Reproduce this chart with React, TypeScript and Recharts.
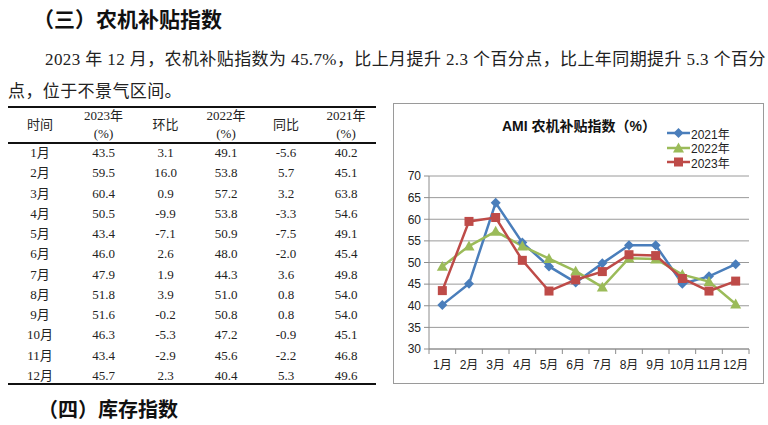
import React from 'react';
import { LineChart, Line, XAxis, YAxis, CartesianGrid, Legend } from 'recharts';

const months = ['1月', '2月', '3月', '4月', '5月', '6月', '7月', '8月', '9月', '10月', '11月', '12月'];
const y2023 = [43.5, 59.5, 60.4, 50.5, 43.4, 46.0, 47.9, 51.8, 51.6, 46.3, 43.4, 45.7];
const mom = [3.1, 16.0, 0.9, -9.9, -7.1, 2.6, 1.9, 3.9, -0.2, -5.3, -2.9, 2.3];
const y2022 = [49.1, 53.8, 57.2, 53.8, 50.9, 48.0, 44.3, 51.0, 50.8, 47.2, 45.6, 40.4];
const yoy = [-5.6, 5.7, 3.2, -3.3, -7.5, -2.0, 3.6, 0.8, 0.8, -0.9, -2.2, 5.3];
const y2021 = [40.2, 45.1, 63.8, 54.6, 49.1, 45.4, 49.8, 54.0, 54.0, 45.1, 46.8, 49.6];
const yTicks = [30, 35, 40, 45, 50, 55, 60, 65, 70];

const series = [
  { key: 'y2021', name: '2021年', color: '#4a7ebb', shape: 'diamond' },
  { key: 'y2022', name: '2022年', color: '#9bbb59', shape: 'triangle' },
  { key: 'y2023', name: '2023年', color: '#be4b48', shape: 'square' },
];

const chartData = months.map((m, i) => ({ month: m, y2021: y2021[i], y2022: y2022[i], y2023: y2023[i] }));

const serif = '"Liberation Serif", "Noto Sans CJK SC", serif';
const sans = '"Liberation Sans", "Noto Sans CJK SC", sans-serif';

const CHART_W = 371;
const CHART_H = 281;
const PLOT_W = 320;
const STEP = PLOT_W / months.length;

function Marker({ shape, color, cx, cy }: { shape: string; color: string; cx: number; cy: number }) {
  if (shape === 'diamond') {
    const r = 5;
    return <polygon points={`${cx},${cy - r} ${cx + r},${cy} ${cx},${cy + r} ${cx - r},${cy}`} fill={color} />;
  }
  if (shape === 'triangle') {
    const r = 5.5;
    return <polygon points={`${cx},${cy - r} ${cx + r},${cy + r * 0.8} ${cx - r},${cy + r * 0.8}`} fill={color} />;
  }
  return <rect x={cx - 4.5} y={cy - 4.5} width={9} height={9} fill={color} />;
}

function MonthTick(props: any) {
  const { x, y, payload, index } = props;
  return (
    <g>
      {index === 0 && <line x1={x - STEP / 2} y1={y} x2={x - STEP / 2} y2={y + 5} stroke="#8c8c8c" />}
      <line x1={x + STEP / 2} y1={y} x2={x + STEP / 2} y2={y + 5} stroke="#8c8c8c" />
      <text x={x} y={y + 20} textAnchor="middle" fontSize={12} fill="#222" fontFamily={sans}>
        {payload.value}
      </text>
    </g>
  );
}

function LegendBox() {
  return (
    <div style={{ fontFamily: sans, fontSize: 12, color: '#222' }}>
      {series.map((s) => (
        <div key={s.key} style={{ display: 'flex', alignItems: 'center', height: 14.5 }}>
          <svg width={23} height={12}>
            <line x1={0} y1={6} x2={23} y2={6} stroke={s.color} strokeWidth={2.5} />
            <Marker shape={s.shape} color={s.color} cx={11.5} cy={6} />
          </svg>
          <span style={{ marginLeft: 1 }}>{s.name}</span>
        </div>
      ))}
    </div>
  );
}

const colLeft = [8, 72, 135, 196, 256, 316];
const colWidth = [64, 63, 61, 60, 60, 60];
const headers = [['时间'], ['2023年', '(%)'], ['环比'], ['2022年', '(%)'], ['同比'], ['2021年', '(%)']];

function DataTable() {
  const rowTop = 143;
  const rowH = 20.25;
  return (
    <div style={{ position: 'absolute', left: 0, top: 0 }}>
      <div style={{ position: 'absolute', left: 8, top: 106, width: 368, height: 2, background: '#111' }} />
      <div style={{ position: 'absolute', left: 8, top: 142, width: 368, height: 2, background: '#111' }} />
      <div style={{ position: 'absolute', left: 8, top: 383, width: 368, height: 2, background: '#111' }} />
      {headers.map((h, c) => (
        <div
          key={c}
          style={{
            position: 'absolute', left: colLeft[c], top: h.length === 1 ? 116 : 107, width: colWidth[c],
            textAlign: 'center', fontFamily: serif, fontSize: 13, lineHeight: '18px', color: '#222',
          }}
        >
          {h.map((t) => <div key={t}>{t}</div>)}
        </div>
      ))}
      {months.map((m, i) => {
        const cells = [m, y2023[i].toFixed(1), mom[i].toFixed(1), y2022[i].toFixed(1), yoy[i].toFixed(1), y2021[i].toFixed(1)];
        return cells.map((t, c) => (
          <div
            key={`${i}-${c}`}
            style={{
              position: 'absolute', left: colLeft[c], top: rowTop + i * rowH, width: colWidth[c], height: rowH,
              lineHeight: `${rowH}px`, textAlign: 'center', fontFamily: serif, fontSize: 13, color: '#222',
            }}
          >
            {t}
          </div>
        ));
      })}
    </div>
  );
}

export default function App() {
  return (
    <div style={{ position: 'absolute', left: 0, top: 0, width: 768, height: 425, background: '#fff', overflow: 'hidden' }}>
      <div style={{ position: 'absolute', left: 33, top: 8, fontFamily: sans, fontWeight: 700, fontSize: 21, lineHeight: '24px', color: '#111', whiteSpace: 'nowrap' }}>
        （三）农机补贴指数
      </div>
      <div style={{ position: 'absolute', left: 45, top: 50, fontFamily: serif, fontSize: 17, lineHeight: '20px', letterSpacing: 0.4, color: '#222', whiteSpace: 'nowrap' }}>
        2023 年 12 月，农机补贴指数为 45.7%，比上月提升 2.3 个百分点，比上年同期提升 5.3 个百分
      </div>
      <div style={{ position: 'absolute', left: 8, top: 82, fontFamily: serif, fontSize: 17, lineHeight: '20px', letterSpacing: 0.4, color: '#222', whiteSpace: 'nowrap' }}>
        点，位于不景气区间。
      </div>

      <DataTable />

      <div style={{ position: 'absolute', left: 393, top: 103, width: CHART_W, height: CHART_H, border: '1px solid #9a9a9a', boxSizing: 'border-box' }}>
        <div style={{ position: 'absolute', left: 108, top: 11, fontFamily: sans, fontWeight: 700, fontSize: 14, color: '#111', whiteSpace: 'nowrap' }}>
          AMI 农机补贴指数（%）
        </div>
        <LineChart width={CHART_W - 2} height={CHART_H - 2} data={chartData} margin={{ top: 72, right: 14, left: 0, bottom: 0 }}>
          <CartesianGrid vertical={false} stroke="#9a9a9a" />
          <XAxis
            dataKey="month"
            height={34}
            padding={{ left: STEP / 2, right: STEP / 2 }}
            axisLine={{ stroke: '#8c8c8c' }}
            tickLine={false}
            tickSize={0}
            tickMargin={0}
            interval={0}
            tick={<MonthTick />}
          />
          <YAxis
            width={35}
            domain={[30, 70]}
            ticks={yTicks}
            interval={0}
            axisLine={{ stroke: '#8c8c8c' }}
            tickLine={{ stroke: '#8c8c8c' }}
            tickSize={5}
            tickMargin={3}
            tick={{ fontSize: 12, fill: '#222', fontFamily: sans }}
          />
          <Legend
            layout="horizontal"
            verticalAlign="middle"
            align="center"
            wrapperStyle={{ top: 22, left: 273, width: 90 }}
            content={<LegendBox />}
          />
          {series.map((s) => (
            <Line
              key={s.key}
              type="linear"
              dataKey={s.key}
              name={s.name}
              stroke={s.color}
              strokeWidth={2.5}
              isAnimationActive={false}
              dot={(p: any) => <Marker key={`${s.key}-${p.index}`} shape={s.shape} color={s.color} cx={p.cx} cy={p.cy} />}
              activeDot={false}
            />
          ))}
        </LineChart>
      </div>

      <div style={{ position: 'absolute', left: 38, top: 398, fontFamily: sans, fontWeight: 700, fontSize: 20, lineHeight: '24px', color: '#111', whiteSpace: 'nowrap' }}>
        （四）库存指数
      </div>
    </div>
  );
}
